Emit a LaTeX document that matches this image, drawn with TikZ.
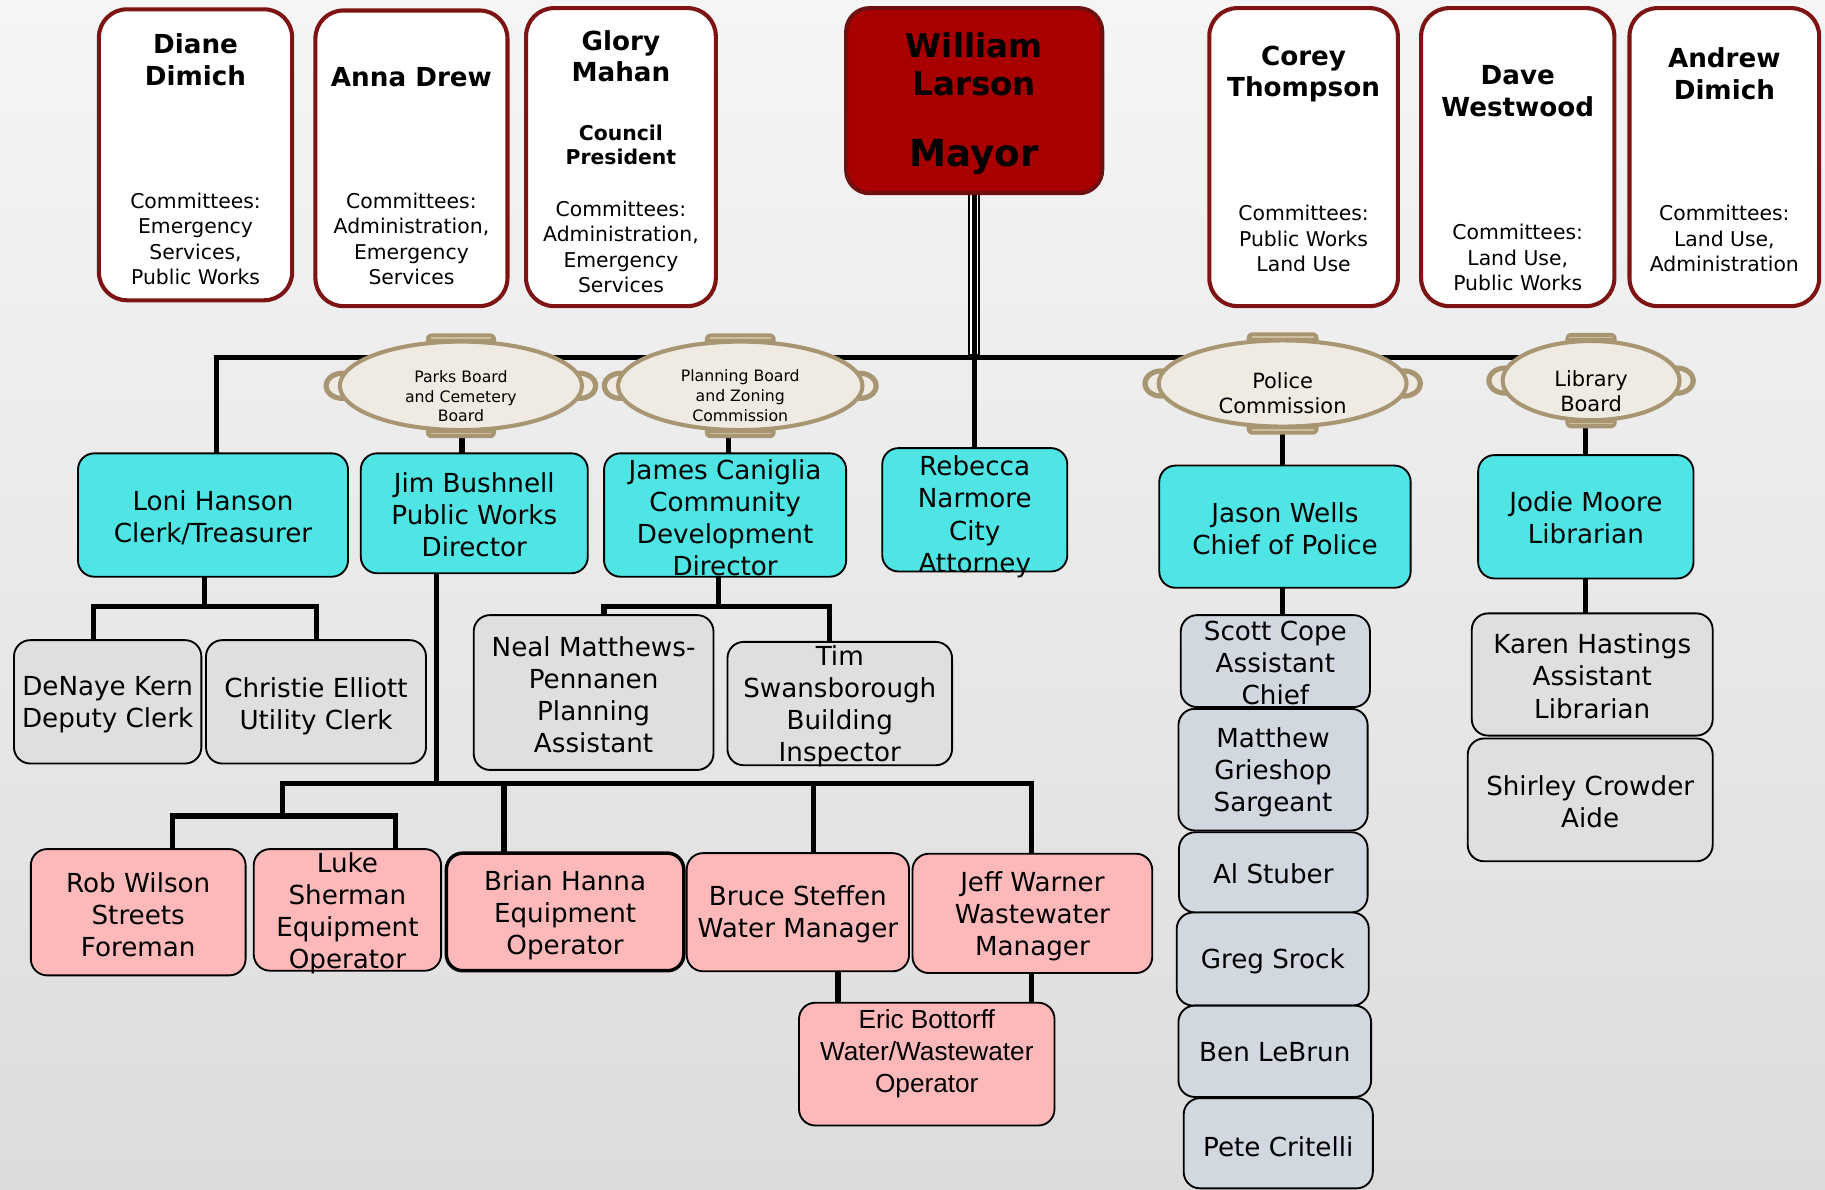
\documentclass[tikz,border=0pt]{standalone}
\usepackage{fontspec}
\setmainfont{DejaVu Sans}
\newfontfamily\arialf{Liberation Sans}
\usetikzlibrary{shapes.geometric}
\definecolor{cred}{HTML}{7D1313}
\definecolor{mayorfill}{HTML}{A80000}
\definecolor{mayorline}{HTML}{6E1010}
\definecolor{cyanfill}{HTML}{4FE5E5}
\definecolor{grayfill}{HTML}{DFDFE1}
\definecolor{bluefill}{HTML}{D1D8E0}
\definecolor{pinkfill}{HTML}{FDB9B9}
\definecolor{cream}{HTML}{EFEBE3}
\definecolor{tanc}{HTML}{A89572}
\definecolor{tanlight}{HTML}{CDBE9E}
\definecolor{bgtop}{HTML}{F5F5F5}
\definecolor{bgbot}{HTML}{DCDCDC}

\pgfdeclarelayer{bg}\pgfdeclarelayer{lines}\pgfsetlayers{bg,lines,main}

\tikzset{
 conn/.style={line width=4.5pt, black, line cap=rect, line join=miter},
 council/.style={draw=cred, line width=3.5pt, fill=white, rounded corners=24pt},
 mayorbox/.style={draw=mayorline, line width=3.5pt, fill=mayorfill, rounded corners=20pt},
 staff/.style={draw=black, line width=1.6pt, rounded corners=14pt},
 cyanbox/.style={staff, fill=cyanfill},
 graybox/.style={staff, fill=grayfill},
 bluebox/.style={staff, fill=bluefill},
 pinkbox/.style={staff, fill=pinkfill},
 brianbox/.style={staff, fill=pinkfill, line width=3pt},
 lbl/.style={align=center, inner sep=0pt, font=\fontsize{22.5}{27.5}\selectfont},
 arlbl/.style={align=center, inner sep=0pt, font=\arialf\fontsize{22.5}{27.5}\selectfont},
 cname/.style={align=center, inner sep=0pt, font=\bfseries\fontsize{22.5}{27}\selectfont},
 cpres/.style={align=center, inner sep=0pt, font=\bfseries\fontsize{17.5}{21}\selectfont},
 ccomm/.style={align=center, inner sep=0pt, font=\fontsize{17.5}{21.8}\selectfont},
 mname/.style={align=center, inner sep=0pt, font=\bfseries\fontsize{28}{33}\selectfont},
 mtitle/.style={align=center, inner sep=0pt, font=\bfseries\fontsize{32}{36}\selectfont},
 boardshape/.style={ellipse, draw=tanc, line width=3.5pt, fill=cream, inner sep=0pt},
 smallboard/.style={align=center, inner sep=0pt, font=\fontsize{13.5}{17}\selectfont},
 bigboard/.style={align=center, inner sep=0pt, font=\fontsize{18}{21.5}\selectfont},
}

% style, textstyle, name, x1, y1, x2, y2, dy, text
\newcommand\orgbox[9]{%
 \pgfmathsetmacro\obcx{(#4+#6)/2}%
 \pgfmathsetmacro\obcy{(#5+#7)/2}%
 \pgfmathsetmacro\obw{#6-#4}%
 \pgfmathsetmacro\obh{#7-#5}%
 \node[#1, minimum width=\obw pt, minimum height=\obh pt, inner sep=0pt] (#3) at (\obcx,\obcy) {};
 \node[#2] (#3t) at (\obcx,\obcy+#8) {#9};}

% name, cx, cy, rx, ry, textstyle, text dy, text
\newcommand\board[8]{%
 \fill[tanc] (#2-#4+2,#3) ellipse [x radius=16, y radius=13];
 \fill[cream] (#2-#4+2,#3) ellipse [x radius=11.5, y radius=8.5];
 \fill[tanc] (#2+#4-2,#3) ellipse [x radius=16, y radius=13];
 \fill[cream] (#2+#4-2,#3) ellipse [x radius=11.5, y radius=8.5];
 \fill[tanc, rounded corners=5pt] (#2-0.29*#4,#3-#5-7) rectangle (#2+0.29*#4,#3-#5+6);
 \draw[tanlight, line width=1.2pt] (#2-0.25*#4,#3-#5-3) -- (#2+0.25*#4,#3-#5-3);
 \fill[tanc, rounded corners=5pt] (#2-0.29*#4,#3+#5-6) rectangle (#2+0.29*#4,#3+#5+7);
 \draw[tanlight, line width=1.2pt] (#2-0.25*#4,#3+#5+3) -- (#2+0.25*#4,#3+#5+3);
 \node[boardshape, minimum width={2*#4*1pt}, minimum height={2*#5*1pt}] (#1) at (#2,#3) {};
 \node[#6] (#1t) at (#2,#3+#7) {#8};}

\begin{document}
\begin{tikzpicture}[x=1pt,y=-1pt]
\useasboundingbox (0,0) rectangle (1568,1022);
\begin{pgfonlayer}{bg}
\shade[top color=bgtop, bottom color=bgbot] (0,0) rectangle (1568,1022);
\end{pgfonlayer}

% ---------- council ----------
\orgbox{council}{cname}{diane}{85}{8}{251}{258}{0}{}
\node[cname] (dianen) at (168,51.5) {Diane\\Dimich};
\node[ccomm] (dianec) at (168,205.4) {Committees:\\Emergency\\Services,\\Public Works};

\orgbox{council}{cname}{anna}{271}{9}{436}{263}{0}{}
\node[cname] (annan) at (353.5,66) {Anna Drew};
\node[ccomm] (annac) at (353.5,205.4) {Committees:\\Administration,\\Emergency\\Services};

\orgbox{council}{cname}{glory}{452}{7}{615}{263}{0}{}
\node[cname] (gloryn) at (533.5,48.3) {Glory\\Mahan};
\node[cpres] (gloryp) at (533.5,124.5) {Council\\President};
\node[ccomm] (gloryc) at (533.5,212.2) {Committees:\\Administration,\\Emergency\\Services};

\orgbox{mayorbox}{cname}{mayor}{727}{7}{947}{166}{0}{}
\node[mname] (mayorn) at (837,55.5) {William\\Larson};
\node[mtitle] (mayort) at (837,134.6) {Mayor};

\orgbox{council}{cname}{corey}{1039}{7}{1201}{263}{0}{}
\node[cname] (coreyn) at (1120,63.5) {Corey\\Thompson};
\node[ccomm] (coreyc) at (1120,205) {Committees:\\Public Works\\Land Use};

\orgbox{council}{cname}{dave}{1221}{7}{1387}{263}{0}{}
\node[cname] (daven) at (1304,78.2) {Dave\\Westwood};
\node[ccomm] (davec) at (1304,221.3) {Committees:\\Land Use,\\Public Works};

\orgbox{council}{cname}{andrew}{1400}{7}{1563}{263}{0}{}
\node[cname] (andrewn) at (1481.5,63.2) {Andrew\\Dimich};
\node[ccomm] (andrewc) at (1481.5,205) {Committees:\\Land Use,\\Administration};

% ---------- boards ----------
\board{parks}{396}{331.5}{104}{38}{smallboard}{9}{Parks Board\\and Cemetery\\Board}
\board{planning}{636}{331.5}{105}{38}{smallboard}{8.5}{Planning Board\\and Zoning\\Commission}
\board{police}{1102}{329.5}{106.5}{37}{bigboard}{8.5}{Police\\Commission}
\board{library}{1367}{327}{76}{34}{bigboard}{9.5}{Library\\Board}

% ---------- department heads ----------
\orgbox{cyanbox}{lbl}{loni}{67}{389.5}{299}{495.5}{2}{Loni Hanson\\Clerk/Treasurer}
\orgbox{cyanbox}{lbl}{jim}{310}{389.5}{505}{492.5}{1.5}{Jim Bushnell\\Public Works\\Director}
\orgbox{cyanbox}{lbl}{james}{519}{389.5}{727}{495.5}{2}{James Caniglia\\Community\\Development\\Director}
\orgbox{cyanbox}{lbl}{rebecca}{758}{385}{917}{491}{6}{Rebecca\\Narmore\\City\\Attorney}
\orgbox{cyanbox}{lbl}{jason}{996}{400}{1212}{505}{1.5}{Jason Wells\\Chief of Police}
\orgbox{cyanbox}{lbl}{jodie}{1270}{391}{1455}{497}{1}{Jodie Moore\\Librarian}

% ---------- staff ----------
\orgbox{graybox}{lbl}{denaye}{12}{550}{173}{656}{2.5}{DeNaye Kern\\Deputy Clerk}
\orgbox{graybox}{lbl}{christie}{177}{550}{366}{656}{3.5}{Christie Elliott\\Utility Clerk}
\orgbox{graybox}{lbl}{neal}{407}{528.5}{613}{661.5}{1.5}{Neal Matthews-\\Pennanen\\Planning\\Assistant}
\orgbox{graybox}{lbl}{tim}{625}{551.5}{818}{657.5}{2}{Tim\\Swansborough\\Building\\Inspector}

\orgbox{bluebox}{lbl}{scott}{1014.5}{528.5}{1177}{607.5}{1.5}{Scott Cope\\Assistant\\Chief}
\orgbox{bluebox}{lbl}{matthew}{1012.5}{609}{1175}{713.5}{2.5}{Matthew\\Grieshop\\Sargeant}
\orgbox{bluebox}{lbl}{al}{1013}{715}{1175}{784}{1}{Al Stuber}
\orgbox{bluebox}{lbl}{greg}{1011}{784}{1176}{864}{1.5}{Greg Srock}
\orgbox{bluebox}{lbl}{ben}{1012.5}{864}{1178}{942.5}{1}{Ben LeBrun}
\orgbox{bluebox}{lbl}{pete}{1017}{943.5}{1179.5}{1021}{3}{Pete Critelli}

\orgbox{graybox}{lbl}{karen}{1264.5}{527}{1471.5}{632}{1.5}{Karen Hastings\\Assistant\\Librarian}
\orgbox{graybox}{lbl}{shirley}{1261}{634.5}{1471.5}{740}{2}{Shirley Crowder\\Aide}

\orgbox{pinkbox}{lbl}{rob}{26.5}{729.5}{211}{838}{2}{Rob Wilson\\Streets\\Foreman}
\orgbox{pinkbox}{lbl}{luke}{218}{729.5}{379}{834}{3}{Luke\\Sherman\\Equipment\\Operator}
\orgbox{brianbox}{lbl}{brian}{383.5}{733}{587.5}{834}{3}{Brian Hanna\\Equipment\\Operator}
\orgbox{pinkbox}{lbl}{bruce}{590}{733}{781}{834.5}{2}{Bruce Steffen\\Water Manager}
\orgbox{pinkbox}{lbl}{jeff}{784}{733.5}{990}{836}{2.5}{Jeff Warner\\Wastewater\\Manager}
\orgbox{pinkbox}{arlbl}{eric}{686.5}{861.5}{906}{967}{-8.5}{Eric Bottorff\\Water/Wastewater\\Operator}

% ---------- connectors ----------
\begin{pgfonlayer}{lines}
\coordinate (hubL) at (186,307);
\coordinate (hubR) at (1366,307);
\coordinate (hubM) at (837,307);
\draw[conn] (hubL) -- (hubR);
\draw[conn] (hubL) -- (hubL |- loni.north);
\draw[line width=10pt, black] (mayor.south) -- (hubM);
\draw[line width=7.2pt, white] (mayor.south) -- ([yshift=3pt]hubM);
\draw[line width=4.3pt, black] (mayor.south) -- (hubM);
\draw[conn] (hubM) -- (hubM |- rebecca.north);

\coordinate (xpark) at (397,0);
\coordinate (xplan) at (626,0);
\coordinate (xpol) at (1102,0);
\coordinate (xlib) at (1362.5,0);
\draw[conn] (xpark |- parks.south) -- (xpark |- jim.north);
\draw[conn] (xplan |- planning.south) -- (xplan |- james.north);
\draw[conn] (xpol |- police.south) -- (xpol |- jason.north);
\draw[conn] (xpol |- jason.south) -- (xpol |- scott.north);
\draw[conn] (xlib |- library.south) -- (xlib |- jodie.north);
\draw[conn] (xlib |- jodie.south) -- (xlib |- karen.north);

% clerk
\coordinate (lj) at (176,521);
\coordinate (lkL) at (80.5,521);
\coordinate (lkR) at (272,521);
\draw[conn] (lj |- loni.south) -- (lj);
\draw[conn] (lkL |- denaye.north) -- (lkL) -- (lkR) -- (lkR |- christie.north);

% community development
\coordinate (jj) at (617,521);
\coordinate (jL) at (519,521);
\coordinate (jR) at (713,521);
\draw[conn] (jj |- james.south) -- (jj);
\draw[conn] (jL |- neal.north) -- (jL) -- (jR) -- (jR |- tim.north);

% public works
\coordinate (pwj) at (375,673);
\coordinate (pwL) at (243,673);
\coordinate (pwR) at (886,673);
\coordinate (pwB) at (433,673);
\coordinate (pwW) at (699,673);
\coordinate (rlj) at (243,701);
\coordinate (rlL) at (148,701);
\coordinate (rlR) at (340,701);
\draw[conn] (pwj |- jim.south) -- (pwj);
\draw[conn] (pwL) -- (pwR);
\draw[conn] (pwL) -- (rlj);
\draw[conn] (rlL |- rob.north) -- (rlL) -- (rlR) -- (rlR |- luke.north);
\draw[conn] (pwB) -- (pwB |- brian.north);
\draw[conn] (pwW) -- (pwW |- bruce.north);
\draw[conn] (pwR) -- (pwR |- jeff.north);
\coordinate (xe1) at (720,0);
\coordinate (xe2) at (886.5,0);
\draw[conn] (xe1 |- bruce.south) -- (xe1 |- eric.north);
\draw[conn] (xe2 |- jeff.south) -- (xe2 |- eric.north);
\end{pgfonlayer}
\end{tikzpicture}
\end{document}
